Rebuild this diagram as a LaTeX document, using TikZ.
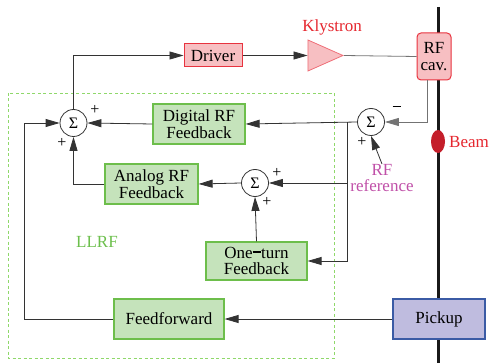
\documentclass[tikz,border=0pt]{standalone}
\usepackage{fontspec}
\setmainfont{Liberation Serif}
\usetikzlibrary{arrows.meta,shapes.geometric}
\definecolor{rbord}{HTML}{E8333F}
\definecolor{rfill}{HTML}{F7BFC2}
\definecolor{gbord}{HTML}{6DBE4B}
\definecolor{gfill}{HTML}{C5E3BB}
\definecolor{pbord}{HTML}{3B5BA5}
\definecolor{pfill}{HTML}{BFBCDF}
\definecolor{dashg}{HTML}{8FD86A}
\definecolor{llrfc}{HTML}{6CBF4C}
\definecolor{magc}{HTML}{C050A8}
\definecolor{redt}{HTML}{E5262E}
\definecolor{beamc}{HTML}{C41E2A}
\definecolor{linec}{HTML}{333333}
\begin{document}
\begin{tikzpicture}[x=1pt,y=-1pt,
  font=\fontsize{17}{16.5}\selectfont,
  conn/.style={draw=linec,line width=0.8pt},
  arr/.style={conn,-{Triangle[length=14pt,width=8pt]}},
  redbox/.style={draw=rbord,fill=rfill,line width=1pt,inner sep=1pt,align=center},
  greenbox/.style={draw=gbord,fill=gfill,line width=1.2pt,inner sep=1pt,align=center},
  sumnode/.style={circle,draw=linec,line width=0.8pt,fill=white,minimum size=27pt,inner sep=0pt,font=\fontsize{16}{16}\selectfont},
  sign/.style={inner sep=0pt,font=\fontsize{16}{16}\selectfont},
]
\useasboundingbox (0,0) rectangle (489,363);
% dashed LLRF frame
\draw[dashg,dashed,line width=0.9pt,dash pattern=on 3pt off 2.5pt] (8,93) rectangle (334,358);
\node[text=llrfc,inner sep=0pt] (llrf) at (97,242) {LLRF};
% beam line
\coordinate (btop) at (438,7);
\coordinate (bbot) at (438,363);
\draw[line width=3pt,black!90] (btop) -- (bbot);
\node[ellipse,fill=beamc,minimum width=14pt,minimum height=23pt,inner sep=0pt] (beam) at (438,141.5) {};
\node[text=redt,inner sep=0pt,anchor=west] (beaml) at (449,142) {Beam};
% boxes
\node[redbox,minimum width=58pt,minimum height=23pt] (driver) at (213,55.5) {Driver};
\node[isosceles triangle,isosceles triangle stretches,shape border rotate=0,
      minimum width=31pt,minimum height=35pt,inner sep=0pt,
      draw=rbord!70,fill=rfill,line width=0.8pt,anchor=east] (kly) at (344,55.5) {};
\node[text=redt,inner sep=0pt] (klyl) at (332,27) {Klystron};
\node[redbox,rounded corners=4pt,minimum width=34pt,minimum height=47pt] (cav) at (434,56.5) {RF\\cav.};
\node[greenbox,minimum width=92pt,minimum height=40pt] (dig) at (199,124) {Digital RF\\Feedback};
\node[greenbox,minimum width=93pt,minimum height=40pt] (ana) at (151.5,184) {Analog RF\\Feedback};
\node[greenbox,minimum width=101pt,minimum height=38pt] (one) at (256.5,261) {One{\rule[0.32em]{0.5em}{0.09em}}turn\\Feedback};
\node[greenbox,minimum width=110pt,minimum height=40pt] (ff) at (169,319) {Feedforward};
\node[draw=pbord,fill=pfill,line width=1.2pt,minimum width=92pt,minimum height=40pt] (pick) at (439,319) {Pickup};
% summers
\node[sumnode] (s1) at (73.5,123) {Σ};
\node[sumnode] (s2) at (371,122) {Σ};
\node[sumnode] (s3) at (255,183) {Σ};
\node[sign] (p1a) at (95,110) {+};
\node[sign] (p1b) at (62,143) {+};
\node[sign] (m2) at (397,109) {\rule[0.3em]{0.55em}{0.1em}};
\node[sign] (p2) at (362,142) {+};
\node[sign] (p3a) at (277,173) {+};
\node[sign] (p3b) at (267,202) {+};
\node[text=magc,align=center,inner sep=0pt,anchor=north] (ref) at (382,164) {RF\\reference};
% connectors
\draw[arr] (s1.north) |- (driver.west);
\draw[arr] (driver.east) -- (kly.west);
\draw[conn,draw=black!55] (kly.east) -- (cav.west);
\coordinate (cavout) at (427,80);
\draw[arr,draw=black!55] (cavout) |- (s2.east);
\draw[arr] (s2.west) -- (dig.east);
\draw[arr] (dig.west) -- (s1.east);
\draw[arr] (ref.north) -- (s2.south);
\coordinate (j1) at (347,122);
\coordinate (j2) at (347,183);
\draw[arr] (j1) |- (one.east);
\draw[arr] (j2) -- (s3.east);
\draw[arr] (s3.west) -- (ana.east);
\draw[arr] (ana.west) -| (s1.south);
\draw[arr] (one.north) -- (s3.south);
\coordinate (ffc) at (24,319);
\draw[arr] (ff.west) -- (ffc) |- (s1.west);
\draw[arr] (pick.west) -- (ff.east);
\end{tikzpicture}
\end{document}
